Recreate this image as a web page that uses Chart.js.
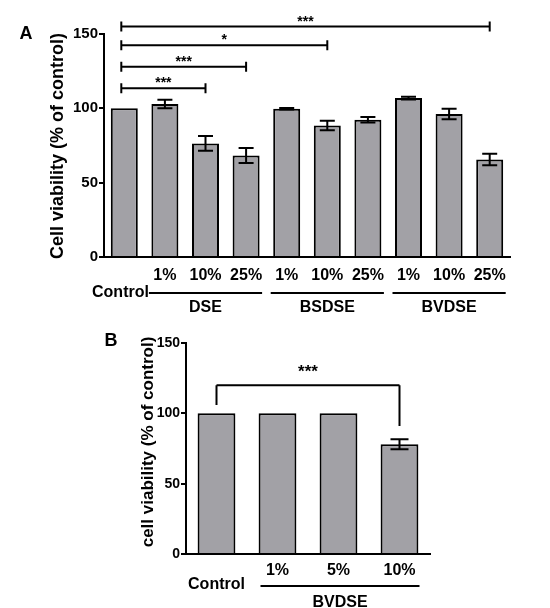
<!DOCTYPE html>
<html>
<head>
<meta charset="utf-8">
<script src="https://cdn.jsdelivr.net/npm/chart.js@4.4.1/dist/chart.umd.min.js"></script>
<style>
body { margin: 0; background: #fff; }
canvas { position: absolute; left: 0; }
#chartA { top: 0; }
#chartB { top: 320px; }
</style>
</head>
<body>
<canvas id="chartA" width="550" height="320"></canvas>
<canvas id="chartB" width="550" height="288"></canvas>
<script>
// ---- panel A data ----
const categoriesA = ['Control', 'DSE 1%', 'DSE 10%', 'DSE 25%', 'BSDSE 1%', 'BSDSE 10%', 'BSDSE 25%', 'BVDSE 1%', 'BVDSE 10%', 'BVDSE 25%'];
const tickLabelsA = ['', '1%', '10%', '25%', '1%', '10%', '25%', '1%', '10%', '25%'];
const valuesA = [100, 102.9, 76.4, 68.3, 99.7, 88.5, 92.3, 106.9, 96.2, 65.6];
const errorsA = [0, 2.8, 5, 5, 0.5, 3.2, 1.8, 0.9, 3.6, 3.9];
const groupNamesA = ['DSE', 'BSDSE', 'BVDSE'];
const groupStartA = [1, 4, 7];
const groupEndA = [3, 6, 9];
const sigFromA = [0, 0, 0, 0];
const sigToA = [9, 5, 3, 2];
const sigLevelA = [155, 142.5, 128, 113.5];
const sigTextA = ['***', '*', '***', '***'];

// ---- panel B data ----
const categoriesB = ['Control', 'BVDSE 1%', 'BVDSE 5%', 'BVDSE 10%'];
const tickLabelsB = ['', '1%', '5%', '10%'];
const valuesB = [100, 100, 100, 78];
const errorsB = [0, 0, 0, 3.5];
const sigFromB = [0];
const sigToB = [3];
const sigLevelB = [120];
const sigLegB = [[106, 91]];
const sigTextB = ['***'];

const FONT = 'Arial, "Liberation Sans", sans-serif';
const barColor = '#a2a1a6';

function font(size) {
    return 'bold ' + size + 'px ' + FONT;
}

// error bars, brackets, group lines and extra text
const extras = {
    id: 'extras',
    afterDatasetsDraw(chart, args, o) {
        const ctx = chart.ctx;
        const x = chart.scales.x;
        const y = chart.scales.y;
        const vals = chart.data.datasets[0].data;
        ctx.save();
        ctx.strokeStyle = '#000';
        ctx.fillStyle = '#000';
        ctx.lineWidth = 2;

        // error bars
        o.errors.forEach((e, i) => {
            if (!e) return;
            const cx = x.getPixelForValue(i);
            const t = y.getPixelForValue(vals[i] + e);
            const b = y.getPixelForValue(vals[i] - e);
            ctx.beginPath();
            ctx.moveTo(cx, t); ctx.lineTo(cx, b);
            ctx.moveTo(cx - o.cap / 2, t); ctx.lineTo(cx + o.cap / 2, t);
            ctx.moveTo(cx - o.cap / 2, b); ctx.lineTo(cx + o.cap / 2, b);
            ctx.stroke();
        });

        // significance brackets
        o.sigFrom.forEach((f, k) => {
            const x1 = x.getPixelForValue(f) + o.sigShift;
            const x2 = x.getPixelForValue(o.sigTo[k]);
            const ly = y.getPixelForValue(o.sigLevel[k]);
            ctx.beginPath();
            ctx.moveTo(x1, ly); ctx.lineTo(x2, ly);
            if (o.sigLeg) {
                ctx.moveTo(x1, ly); ctx.lineTo(x1, y.getPixelForValue(o.sigLeg[k][0]));
                ctx.moveTo(x2, ly); ctx.lineTo(x2, y.getPixelForValue(o.sigLeg[k][1]));
            } else {
                ctx.moveTo(x1, ly - 5); ctx.lineTo(x1, ly + 5);
                ctx.moveTo(x2, ly - 5); ctx.lineTo(x2, ly + 5);
            }
            ctx.stroke();
            ctx.font = font(o.starSize);
            ctx.textAlign = 'center';
            ctx.textBaseline = 'alphabetic';
            ctx.fillText(o.sigText[k], (x1 + x2) / 2, ly - o.starGap);
        });

        // group lines under the axis
        ctx.textBaseline = 'middle';
        ctx.textAlign = 'center';
        o.groupNames.forEach((g, k) => {
            const x1 = x.getPixelForValue(o.groupStart[k]) - o.groupPadL;
            const x2 = x.getPixelForValue(o.groupEnd[k]) + o.groupPadR;
            ctx.beginPath();
            ctx.moveTo(x1, o.groupLineY); ctx.lineTo(x2, o.groupLineY);
            ctx.stroke();
            ctx.font = font(16);
            ctx.fillText(g, (x1 + x2) / 2, o.groupTextY);
        });

        // control label
        ctx.font = font(16);
        if (o.controlRight) {
            ctx.textAlign = 'right';
            ctx.fillText('Control', x.getPixelForValue(o.groupStart[0]) - o.groupPadL, o.controlY);
        } else {
            ctx.textAlign = 'center';
            ctx.fillText('Control', x.getPixelForValue(0), o.controlY);
        }

        // panel letter
        ctx.font = font(18);
        ctx.textAlign = 'center';
        ctx.fillText(o.letter, o.letterX, o.letterY);

        // y axis title
        ctx.save();
        ctx.translate(o.titleX, o.titleY);
        ctx.rotate(-Math.PI / 2);
        ctx.font = font(o.titleSize);
        ctx.fillText(o.title, 0, 0);
        ctx.restore();

        ctx.restore();
    }
};

function makeChart(id, cats, ticks, vals, cfg) {
    return new Chart(document.getElementById(id), {
        type: 'bar',
        data: {
            labels: cats,
            datasets: [{
                data: vals,
                backgroundColor: barColor,
                borderColor: '#000',
                borderWidth: 2,
                borderSkipped: 'bottom',
                barPercentage: cfg.barPct,
                categoryPercentage: 1
            }]
        },
        options: {
            responsive: false,
            animation: false,
            layout: { padding: cfg.padding },
            plugins: {
                legend: { display: false },
                tooltip: { enabled: false },
                extras: cfg.extras
            },
            scales: {
                x: {
                    grid: { display: false, drawTicks: false },
                    border: { color: '#000', width: 2 },
                    ticks: {
                        color: '#000',
                        font: { family: FONT, size: 16, weight: 'bold' },
                        padding: cfg.xPad,
                        maxRotation: 0,
                        autoSkip: false,
                        callback: (v, i) => ticks[i]
                    },
                    afterFit: s => { s.height = cfg.xHeight; }
                },
                y: {
                    min: 0,
                    max: 150,
                    ticks: {
                        stepSize: 50,
                        color: '#000',
                        font: { family: FONT, size: cfg.yFont, weight: 'bold' },
                        padding: 1
                    },
                    grid: { drawOnChartArea: false, color: '#000', lineWidth: 2, tickLength: 5 },
                    border: { color: '#000', width: 2 },
                    afterFit: s => { s.width = cfg.yWidth; }
                }
            }
        },
        plugins: [extras]
    });
}

makeChart('chartA', categoriesA, tickLabelsA, valuesA, {
    barPct: 0.665,
    padding: { left: 44, right: 40, top: 34, bottom: 0 },
    xHeight: 63, yWidth: 60, xPad: 9, yFont: 15,
    extras: {
        errors: errorsA, cap: 15,
        sigFrom: sigFromA, sigTo: sigToA, sigLevel: sigLevelA, sigText: sigTextA,
        sigShift: -3, starSize: 14, starGap: 1,
        groupNames: groupNamesA, groupStart: groupStartA, groupEnd: groupEndA,
        groupPadL: 16, groupPadR: 16, groupLineY: 293, groupTextY: 308,
        controlRight: true, controlY: 293,
        letter: 'A', letterX: 26, letterY: 34,
        title: 'Cell viability (% of control)', titleX: 58, titleY: 146, titleSize: 18
    }
});

makeChart('chartB', categoriesB, tickLabelsB, valuesB, {
    barPct: 0.62,
    padding: { left: 136, right: 120, top: 23, bottom: 0 },
    xHeight: 54, yWidth: 50, xPad: 7, yFont: 14,
    extras: {
        errors: errorsB, cap: 18,
        sigFrom: sigFromB, sigTo: sigToB, sigLevel: sigLevelB, sigText: sigTextB, sigLeg: sigLegB,
        sigShift: 0, starSize: 17, starGap: 8,
        groupNames: ['BVDSE'], groupStart: [1], groupEnd: [3],
        groupPadL: 17, groupPadR: 20, groupLineY: 266, groupTextY: 283,
        controlRight: false, controlY: 265,
        letter: 'B', letterX: 111, letterY: 21,
        title: 'cell viability (% of control)', titleX: 148, titleY: 122, titleSize: 17
    }
});
</script>
</body>
</html>
